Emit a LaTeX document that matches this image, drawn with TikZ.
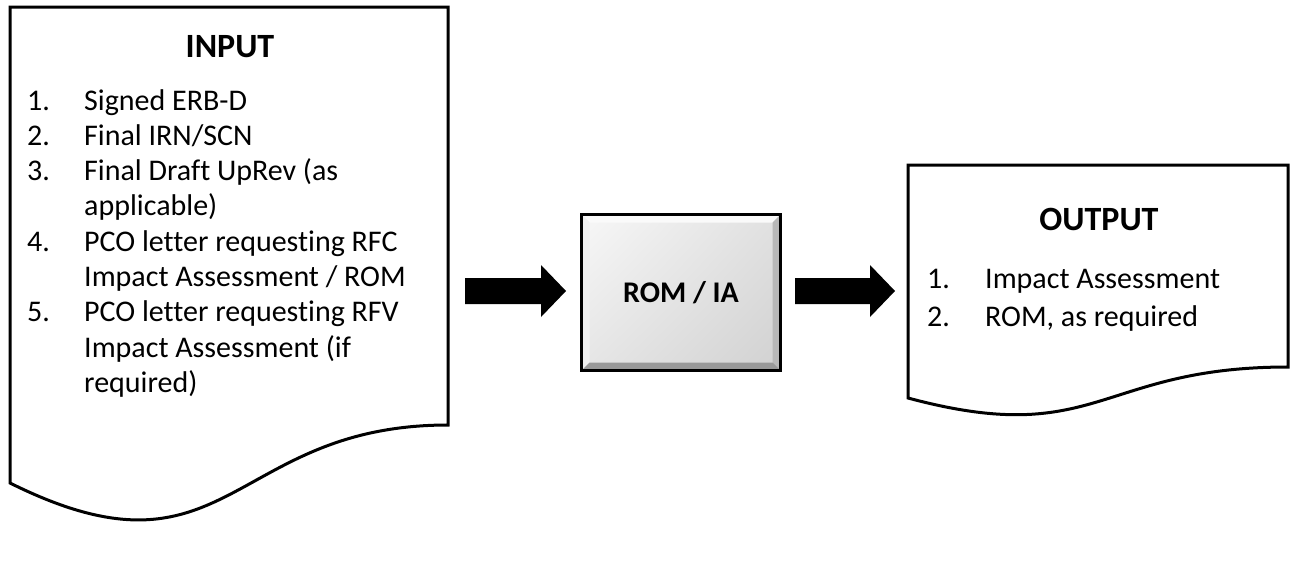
\documentclass[tikz,border=0pt]{standalone}
\usepackage{fontspec}
\setmainfont{Carlito}[Ligatures={NoCommon}]
\usetikzlibrary{calc,shadings}
\newcommand\blockarr[2]{%
  \fill[black] ([yshift=13pt]#1) -- ([xshift=-25pt,yshift=13pt]#2) -- ([xshift=-25pt,yshift=26pt]#2) -- (#2)
    -- ([xshift=-25pt,yshift=-26pt]#2) -- ([xshift=-25pt,yshift=-13pt]#2) -- ([yshift=-13pt]#1) -- cycle;}
\begin{document}
\begin{tikzpicture}[x=1pt,y=-1pt,
  doc/.style={draw=black, line width=3pt, fill=white, line join=miter},
  body/.style={font=\fontsize{30}{35}\selectfont, inner sep=0, anchor=base west},
  head/.style={font=\bfseries\fontsize{34}{40}\selectfont, inner sep=0, anchor=base},
]
\useasboundingbox (0,0) rectangle (1290,571);
% input document
\draw[doc] (10,7) -- (448,7) -- (448,425) .. controls (229,425) and (229,592) .. (10,483) -- cycle;
\node[head] (inhead) at (230,57) {INPUT};
\node[body] (n1) at (27,110) {1.};
\node[body] (t1) at (84,110) {Signed ERB-D};
\node[body] (n2) at (27,145.3) {2.};
\node[body] (t2) at (84,145.3) {Final IRN/SCN};
\node[body] (n3) at (27,180.6) {3.};
\node[body] (t3) at (84,180.6) {Final Draft UpRev (as};
\node[body] (t3b) at (84,215.9) {applicable)};
\node[body] (n4) at (27,251.2) {4.};
\node[body] (t4) at (84,251.2) {PCO letter requesting RFC};
\node[body] (t4b) at (84,286.5) {Impact Assessment / ROM};
\node[body] (n5) at (27,321.8) {5.};
\node[body] (t5) at (84,321.8) {PCO letter requesting RFV};
\node[body] (t5b) at (84,357.1) {Impact Assessment (if};
\node[body] (t5c) at (84,392.4) {required)};
% output document
\draw[doc] (908,165) -- (1288,165) -- (1288,367) .. controls (1098,367) and (1098,449) .. (908,398) -- cycle;
\node[head] (outhead) at (1099,230) {OUTPUT};
\node[body] (o1) at (927,288) {1.};
\node[body] (ot1) at (985,288) {Impact Assessment};
\node[body] (o2) at (927,326) {2.};
\node[body] (ot2) at (985,326) {ROM, as required};
% process box
\node[draw=black, line width=3pt, minimum width=199pt, minimum height=156pt, inner sep=0,
  font=\bfseries\fontsize{30}{36}\selectfont,
  path picture={
    \coordinate (nw) at (path picture bounding box.north west);
    \coordinate (se) at (path picture bounding box.south east);
    \coordinate (ne) at (path picture bounding box.north east);
    \coordinate (sw) at (path picture bounding box.south west);
    \shade[upper left=black!3, upper right=black!12, lower left=black!10, lower right=black!18] (nw) rectangle (se);
    \fill[black!2] (nw) -- (ne) -- ([xshift=-8pt,yshift=-8pt]ne) -- ([xshift=8pt,yshift=-8pt]nw) -- cycle;
    \fill[black!6] (nw) -- (sw) -- ([xshift=8pt,yshift=8pt]sw) -- ([xshift=8pt,yshift=-8pt]nw) -- cycle;
    \fill[black!28] (ne) -- (se) -- ([xshift=-8pt,yshift=8pt]se) -- ([xshift=-8pt,yshift=-8pt]ne) -- cycle;
    \fill[black!40] (sw) -- (se) -- ([xshift=-8pt,yshift=8pt]se) -- ([xshift=8pt,yshift=8pt]sw) -- cycle;
  }] (box) at (681,292.5) {ROM / IA};
% arrows
\coordinate (a1s) at (465,291);
\coordinate (a1e) at ($(box.west)+(-14,-1.5)$);
\blockarr{a1s}{a1e}
\coordinate (a2s) at ($(box.east)+(13,-1.5)$);
\coordinate (a2e) at (895,291);
\blockarr{a2s}{a2e}
\end{tikzpicture}
\end{document}
